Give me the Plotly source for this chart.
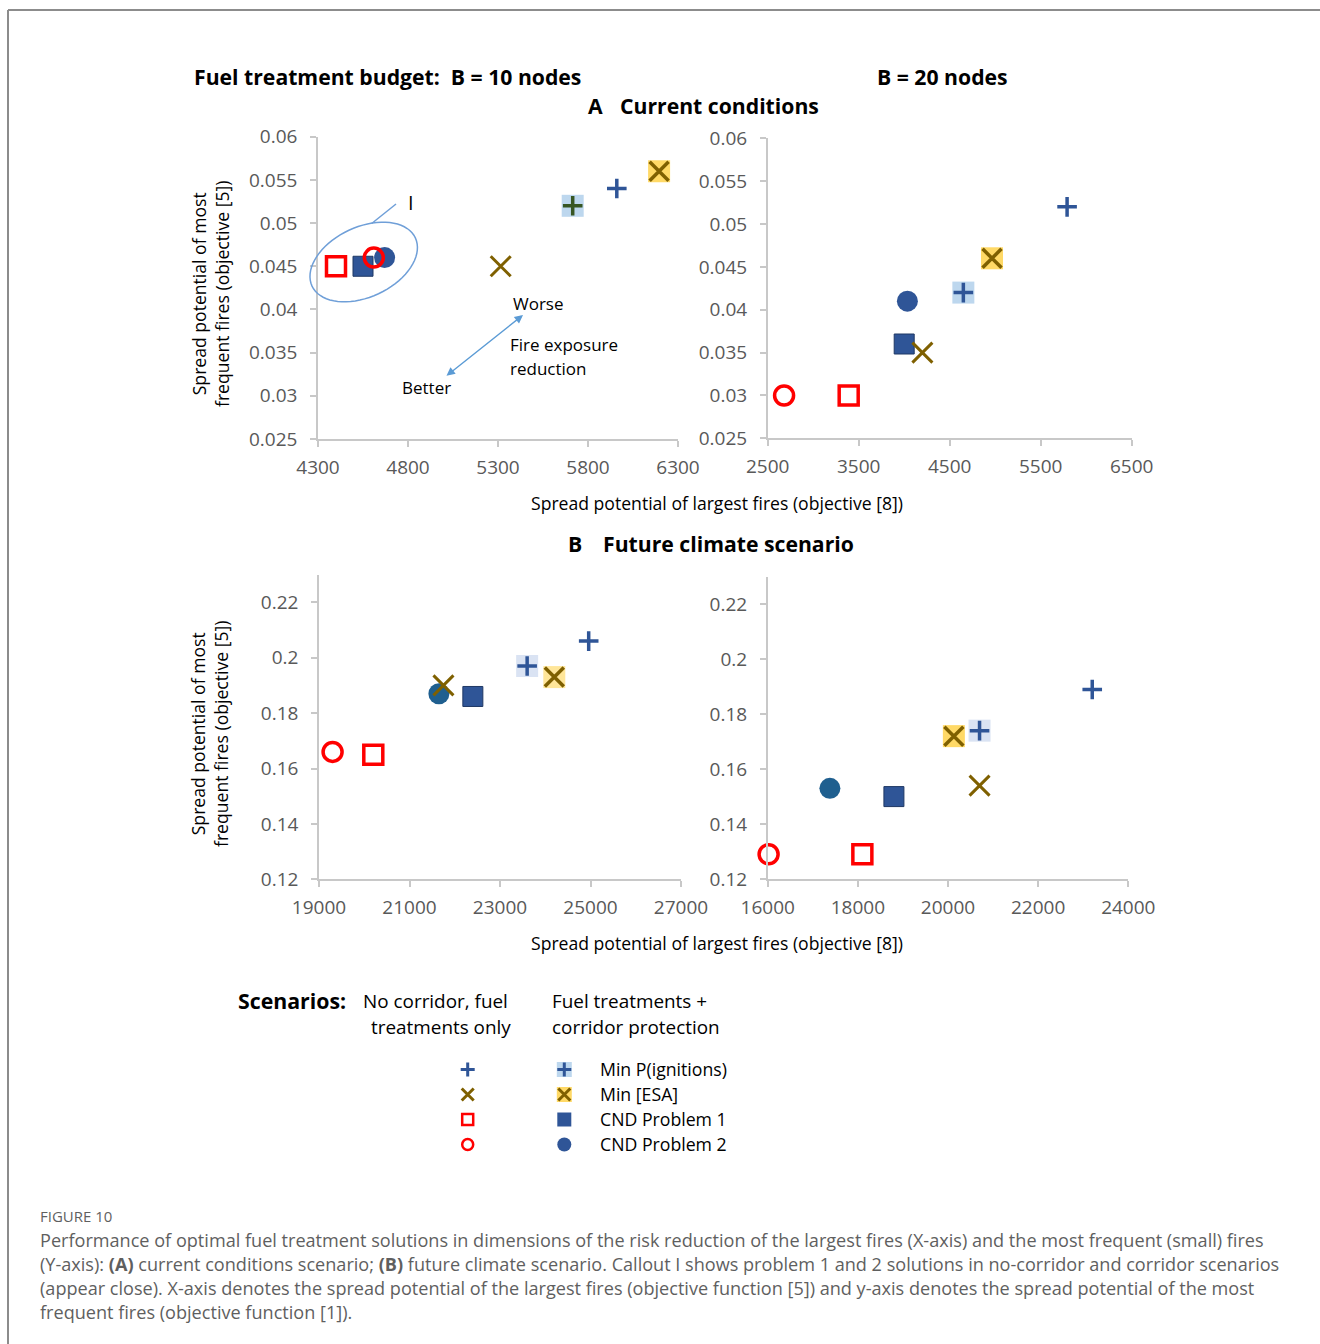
import numpy as np
import plotly.graph_objects as go

W, H = 1320, 1344

# ---- data: one value per panel (A/B10, A/B20, then B/B10, B/B20) ----
panels = ["A_B10", "A_B20", "B_B10", "B_B20"]

# no corridor, fuel treatments only
nc_pign_x = [5960, 5790, 24960, 23200]
nc_pign_y = [0.054, 0.052, 0.206, 0.189]
nc_esa_x = [5315, 4200, 21750, 20700]
nc_esa_y = [0.045, 0.035, 0.190, 0.154]
nc_cnd1_x = [4400, 3390, 20200, 18100]
nc_cnd1_y = [0.045, 0.030, 0.165, 0.129]
nc_cnd2_x = [4610, 2680, 19300, 16020]
nc_cnd2_y = [0.046, 0.030, 0.166, 0.129]

# fuel treatments + corridor protection
c_pign_x = [5715, 4650, 23600, 20700]
c_pign_y = [0.052, 0.042, 0.197, 0.174]
c_esa_x = [6195, 4965, 24200, 20130]
c_esa_y = [0.056, 0.046, 0.193, 0.172]
c_cnd1_x = [4550, 4000, 22400, 18800]
c_cnd1_y = [0.045, 0.036, 0.186, 0.150]
c_cnd2_x = [4670, 4035, 21650, 17380]
c_cnd2_y = [0.046, 0.041, 0.187, 0.153]

# axis ranges and tick labels
x_ranges = [[4300, 6300], [2500, 6500], [19000, 27000], [16000, 24000]]
x_ticks = [[4300, 4800, 5300, 5800, 6300],
           [2500, 3500, 4500, 5500, 6500],
           [19000, 21000, 23000, 25000, 27000],
           [16000, 18000, 20000, 22000, 24000]]
yA_range = [0.025, 0.06]
yA_ticks = [0.025, 0.03, 0.035, 0.04, 0.045, 0.05, 0.055, 0.06]
yA_text = ["0.025", "0.03", "0.035", "0.04", "0.045", "0.05", "0.055", "0.06"]
yB_range = [0.12, 0.23]
yB_ticks = [0.12, 0.14, 0.16, 0.18, 0.20, 0.22]
yB_text = ["0.12", "0.14", "0.16", "0.18", "0.2", "0.22"]

legend_labels = ["Min P(ignitions)", "Min [ESA]", "CND Problem 1", "CND Problem 2"]

# ---- styling ----
BLUE = "#2f5597"
BROWN = "#7f6000"
RED = "#ff0000"
plus_nc_col = [BLUE, BLUE, BLUE, BLUE]
plus_c_col = ["#375623", BLUE, BLUE, BLUE]
plus_box_col = ["#bdd7ee", "#bdd7ee", "#dae3f3", "#dae3f3"]
esa_box_col = ["#ffd966", "#ffd966", "#ffe699", "#ffd966"]
circle_col = [BLUE, BLUE, "#1f5f8f", "#1f5f8f"]

FONT = "Open Sans"
TICK_GRAY = "#595959"
AXIS_GRAY = "#c8c8c8"

# panel placement in pixels: (left, right, top, bottom)
boxes = [(318, 678, 136.7, 439), (767.7, 1131.7, 138.3, 438.3),
         (319, 681, 574.6, 879.3), (767.7, 1128.3, 576.8, 879)]


def px(x):
    return x / W


def py(y):
    return 1 - y / H


fig = go.Figure()
layout = {}
for i, (l, r, t, b) in enumerate(boxes):
    n = "" if i == 0 else str(i + 1)
    isA = i < 2
    layout["xaxis" + n] = dict(
        domain=[px(l), px(r)], range=x_ranges[i], anchor="y" + n,
        tickvals=x_ticks[i], ticktext=[str(v) for v in x_ticks[i]],
        showline=True, linecolor=AXIS_GRAY, linewidth=1.5,
        ticks="outside", ticklen=6, tickcolor=AXIS_GRAY, tickwidth=1.5,
        showgrid=False, zeroline=False, ticklabelstandoff=4, automargin=False,
        tickfont=dict(family=FONT, size=19, color=TICK_GRAY), fixedrange=True)
    layout["yaxis" + n] = dict(
        domain=[py(b), py(t)], range=yA_range if isA else yB_range, anchor="x" + n,
        tickvals=yA_ticks if isA else yB_ticks, ticktext=yA_text if isA else yB_text,
        showline=True, linecolor=AXIS_GRAY, linewidth=1.5,
        ticks="outside", ticklen=6, tickcolor=AXIS_GRAY, tickwidth=1.5,
        showgrid=False, zeroline=False, ticklabelstandoff=9, automargin=False,
        tickfont=dict(family=FONT, size=19, color=TICK_GRAY), fixedrange=True)


def add(i, x, y, symbol, size, color, line_color=None, line_width=0):
    n = "" if i == 0 else str(i + 1)
    fig.add_trace(go.Scatter(
        x=[x], y=[y], xaxis="x" + n, yaxis="y" + n, mode="markers",
        cliponaxis=False, showlegend=False, hoverinfo="skip",
        marker=dict(symbol=symbol, size=size, color=color,
                    line=dict(color=line_color or color, width=line_width))))


for i in range(4):
    # corridor solutions: filled markers and shaded boxes
    add(i, c_cnd1_x[i], c_cnd1_y[i], "square", 20, BLUE, "#1f3864", 1)
    add(i, c_cnd2_x[i], c_cnd2_y[i], "circle", 21, circle_col[i])
    # no-corridor CND solutions: open red markers
    add(i, nc_cnd1_x[i], nc_cnd1_y[i], "square-open", 19, RED, RED, 3.5)
    add(i, nc_cnd2_x[i], nc_cnd2_y[i], "circle-open", 19, RED, RED, 3.5)
    add(i, c_pign_x[i], c_pign_y[i], "square", 22, plus_box_col[i])
    add(i, c_pign_x[i], c_pign_y[i], "cross-thin", 14, plus_c_col[i], plus_c_col[i], 3.5)
    add(i, c_esa_x[i], c_esa_y[i], "square", 22, esa_box_col[i])
    add(i, c_esa_x[i], c_esa_y[i], "x-thin", 19, BROWN, BROWN, 3.5)
    # no-corridor P(ignitions) and ESA solutions
    add(i, nc_pign_x[i], nc_pign_y[i], "cross-thin", 14, plus_nc_col[i], plus_nc_col[i], 3.5)
    add(i, nc_esa_x[i], nc_esa_y[i], "x-thin", 20, BROWN, BROWN, 3)

# ---- scenario key drawn on its own small axis (column, row) ----
layout["xaxis5"] = dict(domain=[px(419.4), px(612.6)], range=[-0.5, 1.5],
                        visible=False, anchor="y5", fixedrange=True, automargin=False)
layout["yaxis5"] = dict(domain=[py(1157), py(1057)], range=[3.5, -0.5],
                        visible=False, anchor="x5", fixedrange=True, automargin=False)


def key(col, row, symbol, size, color, line_width=0):
    fig.add_trace(go.Scatter(
        x=[col], y=[row], xaxis="x5", yaxis="y5", mode="markers",
        showlegend=False, hoverinfo="skip", cliponaxis=False,
        marker=dict(symbol=symbol, size=size, color=color,
                    line=dict(color=color, width=line_width))))


key(0, 0, "cross-thin", 10, BLUE, 3)
key(0, 1, "x-thin", 12, BROWN, 3)
key(0, 2, "square-open", 11, RED, 2.5)
key(0, 3, "circle-open", 11, RED, 2.5)
key(1, 0, "square", 15, "#bdd7ee")
key(1, 0, "cross-thin", 10, BLUE, 3)
key(1, 1, "square", 15, "#ffd966")
key(1, 1, "x-thin", 12, BROWN, 3)
key(1, 2, "square", 14, BLUE)
key(1, 3, "circle", 14, BLUE)

annotations = []


def text(x, y, s, size=17, bold=False, color="#000000", xanchor="left", angle=0, family=FONT):
    # annotation boxes carry a couple of pixels of padding; offset so glyphs start at x
    dx = -2 if xanchor == "left" else 0
    annotations.append(dict(
        x=px(x + dx), y=py(y), xref="paper", yref="paper", text=("<b>%s</b>" % s) if bold else s,
        showarrow=False, xanchor=xanchor, yanchor="middle", textangle=angle,
        font=dict(family=family, size=size, color=color)))


# panel headings
text(194, 77, "Fuel treatment budget:  B = 10 nodes", 21.2, True)
text(877, 77, "B = 20 nodes", 21.2, True)
text(588, 105, "A", 21.2, True)
text(620, 105, "Current conditions", 21.2, True)
text(568, 543, "B", 21.2, True)
text(603, 543, "Future climate scenario", 21.2, True)

# axis titles
for yy in (503, 943):
    text(717, yy, "Spread potential of largest fires (objective [8])", 17.6, xanchor="center")
for yy in (294, 734):
    annotations.append(dict(
        x=px(210), y=py(yy), xref="paper", yref="paper",
        text="Spread potential of most<br>frequent fires (objective [5])",
        showarrow=False, textangle=-90, xanchor="center", yanchor="middle",
        font=dict(family=FONT, size=17.6, color="#000000")))

# callout and fire-exposure arrow
text(411, 203, "I", 20, xanchor="center")
text(513, 304, "Worse", 17)
text(510, 344, "Fire exposure", 17)
text(510, 368, "reduction", 17)
text(402, 388, "Better", 17)
annotations.append(dict(
    x=px(523), y=py(315), xref="paper", yref="paper", text="",
    ax=445 - 523, ay=377 - 315, axref="pixel", ayref="pixel",
    showarrow=True, arrowside="end+start", arrowhead=2, arrowsize=1.2,
    arrowwidth=1.4, arrowcolor="#5b9bd5", startarrowhead=2, startarrowsize=1.2))

# scenario key text
text(238, 1000, "Scenarios:", 21.3, True)
text(363, 1001, "No corridor, fuel", 18.9)
text(371, 1027, "treatments only", 18.9)
text(552, 1001, "Fuel treatments +", 18.9)
text(552, 1027, "corridor protection", 18.9)
for k, lab in enumerate(legend_labels):
    text(600, 1069 + 25 * k, lab, 17.7)

# caption
CAP = "#5f5f5f"
text(40, 1216, "FIGURE 10", 15, color=CAP)
cap_lines = [
    "Performance of optimal fuel treatment solutions in dimensions of the risk reduction of the largest fires (X-axis) and the most frequent (small) fires",
    "(Y-axis): <b>(A)</b> current conditions scenario; <b>(B)</b> future climate scenario. Callout I shows problem 1 and 2 solutions in no-corridor and corridor scenarios",
    "(appear close). X-axis denotes the spread potential of the largest fires (objective function [5]) and y-axis denotes the spread potential of the most",
    "frequent fires (objective function [1]).",
]
for k, line in enumerate(cap_lines):
    text(40, 1240 + 24 * k, line, 18.1, color=CAP)

# ellipse around the clustered CND solutions
t = np.linspace(0, 2 * np.pi, 73)
cx, cy, a, b, th = 363.7, 262.0, 57.0, 35.0, np.deg2rad(25)
ex = cx + a * np.cos(t) * np.cos(th) - b * np.sin(t) * np.sin(th)
ey = cy - (a * np.cos(t) * np.sin(th) + b * np.sin(t) * np.cos(th))
path = "M " + " L ".join("%.5f,%.5f" % (px(u), py(v)) for u, v in zip(ex, ey)) + " Z"

shapes = [
    dict(type="path", path=path, xref="paper", yref="paper",
         line=dict(color="#6f9fd8", width=1.5)),
    dict(type="line", xref="paper", yref="paper", x0=px(371.7), y0=py(223.5),
         x1=px(396), y1=py(204), line=dict(color="#6f9fd8", width=1.5)),
    # page frame
    dict(type="line", xref="paper", yref="paper", x0=px(8), y0=py(10), x1=1.0, y1=py(10),
         line=dict(color="#8c8c8c", width=2)),
    dict(type="line", xref="paper", yref="paper", x0=px(8), y0=py(10), x1=px(8), y1=0.0,
         line=dict(color="#8c8c8c", width=2)),
]

fig.update_layout(
    width=W, height=H, margin=dict(l=0, r=0, t=0, b=0, pad=0, autoexpand=False),
    paper_bgcolor="white", plot_bgcolor="white",
    annotations=annotations, shapes=shapes, showlegend=False,
    font=dict(family=FONT), **layout)

fig.write_html("out.html", config={"displayModeBar": False})
